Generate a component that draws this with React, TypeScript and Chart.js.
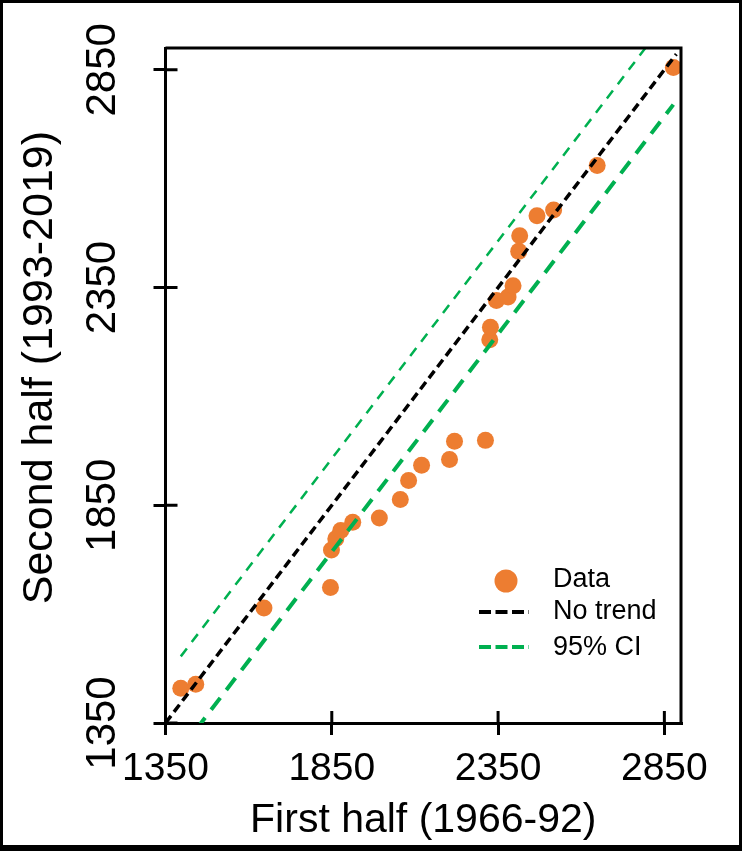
import React, { useEffect, useRef } from 'react';
import { Chart, registerables } from 'chart.js';

Chart.register(...registerables);

// first half (x) vs second half (y), one entry per point
const firstHalf = [1396, 1441, 1646, 1846, 1849, 1862, 1877, 1913, 1993, 2056, 2081, 2120, 2204,
  2219, 2312, 2325, 2327, 2345, 2380, 2395, 2412, 2415, 2467, 2517, 2648, 2877];
const secondHalf = [1430, 1439, 1614, 1661, 1747, 1773, 1792, 1811, 1821, 1863, 1907, 1942, 1955,
  1997, 1999, 2230, 2259, 2320, 2328, 2354, 2433, 2469, 2515, 2528, 2630, 2855];

const noTrendX = [1350, 2886];
const noTrendY = [1350, 2886];
const upperCiX = [1396, 2877];
const upperCiY = [1503, 2984];
const lowerCiX = [1396, 2877];
const lowerCiY = [1289, 2770];

const axisTicks = [1350, 1850, 2350, 2850];
const axisMin = 1350;
const axisMax = 2900;

const FONT = "Arial, 'Liberation Sans', sans-serif";
const ORANGE = '#ED7D31';
const GREEN = '#00B050';

const pairs = (xs: number[], ys: number[]) => xs.map((x, i) => ({ x, y: ys[i] }));

// top/right frame lines and the inner half of the tick marks
const plotFrame = {
  id: 'plotFrame',
  afterDatasetsDraw(chart: any) {
    const { ctx, chartArea: a, scales } = chart;
    ctx.save();
    ctx.strokeStyle = '#000';
    ctx.lineWidth = 3;
    ctx.beginPath();
    ctx.moveTo(a.left, a.top);
    ctx.lineTo(a.right, a.top);
    ctx.lineTo(a.right, a.bottom);
    scales.x.ticks.forEach((t: any) => {
      const px = scales.x.getPixelForValue(t.value);
      ctx.moveTo(px, a.bottom);
      ctx.lineTo(px, a.bottom - 12);
    });
    scales.y.ticks.forEach((t: any) => {
      const py = scales.y.getPixelForValue(t.value);
      ctx.moveTo(a.left, py);
      ctx.lineTo(a.left + 12, py);
    });
    ctx.stroke();
    ctx.restore();
  },
};

export default function App() {
  const canvasRef = useRef<HTMLCanvasElement>(null);
  const chartRef = useRef<Chart | null>(null);

  useEffect(() => {
    document.body.style.margin = '0';
    if (!canvasRef.current) return;
    if (chartRef.current) chartRef.current.destroy();

    const setTicks = (scale: any) => {
      scale.ticks = axisTicks.map((v) => ({ value: v }));
    };
    const plain = (v: any) => String(v);

    chartRef.current = new Chart(canvasRef.current, {
      type: 'scatter',
      data: {
        datasets: [
          {
            label: 'No trend',
            data: pairs(noTrendX, noTrendY),
            showLine: true,
            borderColor: '#000',
            borderWidth: 3.5,
            borderDash: [9, 5],
            pointRadius: 0,
            clip: 0,
            order: 0,
          },
          {
            label: '95% CI',
            data: pairs(upperCiX, upperCiY),
            showLine: true,
            borderColor: GREEN,
            borderWidth: 2.5,
            borderDash: [10, 8],
            pointRadius: 0,
            clip: 0,
            order: 0,
          },
          {
            label: '95% CI lower',
            data: pairs(lowerCiX, lowerCiY),
            showLine: true,
            borderColor: GREEN,
            borderWidth: 4,
            borderDash: [15, 10],
            pointRadius: 0,
            clip: 0,
            order: 0,
          },
          {
            label: 'Data',
            data: pairs(firstHalf, secondHalf),
            backgroundColor: ORANGE,
            borderWidth: 0,
            pointRadius: 8.5,
            order: 1,
          },
        ],
      },
      options: {
        animation: false,
        responsive: false,
        layout: { padding: { top: 45, right: 58, left: 0, bottom: 0 } },
        plugins: {
          legend: { display: false },
          tooltip: { enabled: false },
        },
        scales: {
          x: {
            type: 'linear',
            min: axisMin,
            max: axisMax,
            afterBuildTicks: setTicks,
            afterFit: (s: any) => { s.height = 122; },
            border: { display: true, color: '#000', width: 3 },
            grid: { drawOnChartArea: false, drawTicks: true, tickLength: 12, color: '#000', lineWidth: 3 },
            ticks: {
              color: '#000',
              font: { family: FONT, size: 39 },
              padding: 11,
              maxRotation: 0,
              autoSkip: false,
              callback: plain,
            },
            title: {
              display: true,
              text: 'First half (1966-92)',
              color: '#000',
              font: { family: FONT, size: 41 },
              padding: { top: 0, bottom: 0 },
            },
          },
          y: {
            type: 'linear',
            min: axisMin,
            max: axisMax,
            afterBuildTicks: setTicks,
            afterFit: (s: any) => { s.width = 162.5; },
            border: { display: true, color: '#000', width: 3 },
            grid: { drawOnChartArea: false, drawTicks: true, tickLength: 12, color: '#000', lineWidth: 3 },
            ticks: {
              color: '#000',
              font: { family: FONT, size: 42 },
              padding: 3,
              minRotation: 90,
              maxRotation: 90,
              crossAlign: 'center',
              autoSkip: false,
              callback: plain,
            },
            title: {
              display: true,
              text: '   Second half (1993-2019)',
              color: '#000',
              font: { family: FONT, size: 43 },
              padding: { top: 11, bottom: 0 },
            },
          },
        },
      },
      plugins: [plotFrame],
    } as any);

    return () => { if (chartRef.current) chartRef.current.destroy(); };
  }, []);

  return (
    <div
      style={{
        position: 'relative',
        width: 742,
        height: 851,
        boxSizing: 'border-box',
        borderStyle: 'solid',
        borderColor: '#000',
        borderWidth: '3px 3px 6px 3px',
        background: '#fff',
      }}
    >
      <canvas ref={canvasRef} width={736} height={842} style={{ display: 'block' }} />
      <svg
        width={200}
        height={110}
        style={{ position: 'absolute', left: 467, top: 552, fontFamily: FONT, fontSize: 27 }}
      >
        <circle cx={36} cy={26} r={11.5} fill={ORANGE} />
        <text x={83} y={23} dominantBaseline="central" fill="#000">Data</text>
        <line x1={9} y1={57} x2={59} y2={57} stroke="#000" strokeWidth={4} strokeDasharray="12 4.5" />
        <text x={83} y={55} dominantBaseline="central" fill="#000">No trend</text>
        <line x1={9} y1={92} x2={59} y2={92} stroke={GREEN} strokeWidth={4} strokeDasharray="12 4.5" />
        <text x={83} y={91} dominantBaseline="central" fill="#000">95% CI</text>
      </svg>
    </div>
  );
}
